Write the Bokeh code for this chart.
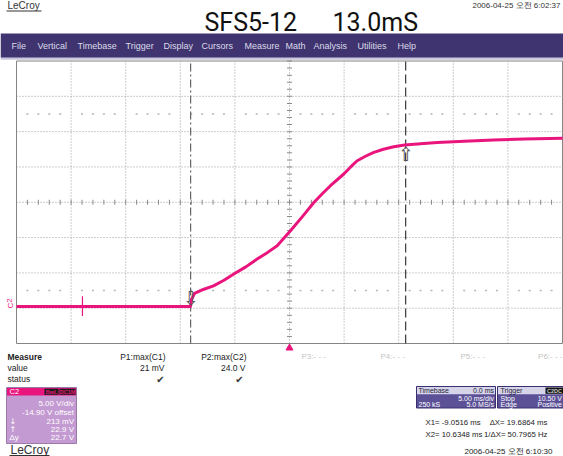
from bokeh.plotting import figure
from bokeh.models import Range1d
from bokeh.core.properties import value
from bokeh.embed import file_html
from bokeh.resources import INLINE

# ---------------- data ----------------
TIME_PER_DIV_MS = 5.0
VOLT_PER_DIV = 5.0
OFFSET_V = -14.90
H_DIVS = 10
V_DIVS = 8
CURSOR_X1_MS = -9.0516
CURSOR_X2_MS = 10.6348
CURSOR_Y1_V = 0.213
CURSOR_Y2_V = 22.9
TRIGGER_T_MS = 0.0

trace_t = [-25.0, -9.07, -8.95, -8.7, -7.9, -6.96, -6.0,
           -5.1, -4.0, -2.96, -2.0, -1.13, 0.09, 1.2, 2.23, 3.0, 3.75, 4.97, 5.6,
           6.2, 7.0, 7.72, 8.6, 9.55, 10.53, 12.0, 13.53, 16.0, 18.68, 21.5, 25.0]
trace_v = [0.15, 0.15, 1.2, 2.0, 2.55, 3.07, 3.85,
           4.73, 5.75, 6.86, 7.8, 8.74, 10.86, 12.9, 14.87, 16.1, 17.24, 18.9, 19.9,
           20.78, 21.45, 21.96, 22.4, 22.76, 23.0, 23.2, 23.37, 23.55, 23.7, 23.85, 23.95]
spike_t = [-18.96, -18.96]
spike_v = [1.6, -1.2]

title_left = "SFS5-12"
title_right = "13.0mS"
menu_items = ["File", "Vertical", "Timebase", "Trigger", "Display", "Cursors",
              "Measure", "Math", "Analysis", "Utilities", "Help"]
measure_rows = ["Measure", "value", "status"]
param_names = ["P1:max(C1)", "P2:max(C2)"]
param_values = ["21 mV", "24.0 V"]
unused_params = ["P3:- - -", "P4:- - -", "P5:- - -", "P6:- - -"]
c2_lines = ["5.00 V/div", "-14.90 V offset", "213 mV", "22.9 V", "22.7 V"]
c2_syms = ["", "", "\u2193", "\u2191", "\u0394y"]
timebase_rows = [("Timebase", "0.0 ms"), ("", "5.00 ms/div"), ("250 kS", "5.0 MS/s")]
trigger_rows = [("Trigger", ""), ("Stop", "10.50 V"), ("Edge", "Positive")]
cursor_left = ["X1= -9.0516 ms", "X2= 10.6348 ms"]
cursor_right = ["\u0394X= 19.6864 ms", "1/\u0394X= 50.7965 Hz"]
date_top = "2006-04-25 \uc624\uc804 6:02:37"
date_bottom = "2006-04-25 \uc624\uc804 6:10:30"

# ---------------- layout (pixel space 563 x 456) ----------------
REF_W, REF_H = 563.0, 456.0
W, H = 563, 456
GRID_L, GRID_R, GRID_T, GRID_B = 16.0, 562.0, 60.5, 343.0
menu_lx = [11, 37, 77, 125, 163, 201, 244, 285, 313, 357, 397]

t_left = -H_DIVS / 2 * TIME_PER_DIV_MS
t_right = H_DIVS / 2 * TIME_PER_DIV_MS
ms_per_px = (t_right - t_left) / (GRID_R - GRID_L)
v_center = -OFFSET_V
v_bot = v_center - V_DIVS / 2 * VOLT_PER_DIV
v_top = v_center + V_DIVS / 2 * VOLT_PER_DIV
v_per_px = (v_top - v_bot) / (GRID_B - GRID_T)

x_range = Range1d(t_left - GRID_L * ms_per_px, t_right + (REF_W - GRID_R) * ms_per_px)
y_range = Range1d(v_bot - (REF_H - GRID_B) * v_per_px, v_top + GRID_T * v_per_px)

p = figure(width=W, height=H, x_range=x_range, y_range=y_range,
           output_backend="svg", toolbar_location=None, title=None,
           x_axis_location=None, y_axis_location=None, min_border=0,
           outline_line_color=None, background_fill_color="white",
           border_fill_color="white")
p.xgrid.visible = False
p.ygrid.visible = False
p.extra_x_ranges = {"px": Range1d(0, REF_W)}
p.extra_y_ranges = {"py": Range1d(REF_H, 0)}

PX = dict(x_range_name="px", y_range_name="py")


def txt(x, y, s, size, color, align="left", baseline="middle", font="Liberation Sans",
        style="normal", angle=0.0, xr="px", yr="py", yoff=0):
    p.text(x=[x], y=[y], text=[s], text_font=value(font),
           text_font_size=value(f"{size:.1f}px"), text_color=color,
           text_align=align, text_baseline=baseline, text_font_style=style,
           angle=angle, y_offset=yoff, x_range_name=xr, y_range_name=yr)


# ---------------- header ----------------
txt(7, 5, "LeCroy", 10, "#333333")
p.segment(x0=[6], y0=[10.5], x1=[41], y1=[10.5], line_color="#333333", line_width=1, **PX)
txt(560, 4.5, date_top, 8, "#333333", align="right")
txt(204, 22, title_left, 25, "#111111", font="Roboto")
txt(332, 22, title_right, 25, "#111111", font="Roboto")
p.quad(left=[0], right=[REF_W], top=[33], bottom=[57.3], fill_color="#3f3470",
       line_color=None, **PX)
p.quad(left=[0], right=[REF_W], top=[57.3], bottom=[59.3], fill_color="#c9c5dd",
       line_color=None, **PX)
for name, mx in zip(menu_items, menu_lx):
    txt(mx, 45.5, name, 9, "#dcdbe8")

# ---------------- scope grid ----------------
t_grid = [t_left + k * TIME_PER_DIV_MS for k in range(1, H_DIVS)]
v_grid = [v_bot + k * VOLT_PER_DIV for k in range(1, V_DIVS)]
p.segment(x0=t_grid, y0=[v_bot] * len(t_grid), x1=t_grid, y1=[v_top] * len(t_grid),
          line_color="#9a9a9a", line_width=1, line_dash="1 2")
p.segment(x0=[t_left] * len(v_grid), y0=v_grid, x1=[t_right] * len(v_grid), y1=v_grid,
          line_color="#9a9a9a", line_width=1, line_dash="1 2")

minor_t = [t_left + k * TIME_PER_DIV_MS / 5 for k in range(H_DIVS * 5 + 1)]
minor_v = [v_bot + k * VOLT_PER_DIV / 5 for k in range(V_DIVS * 5 + 1)]
p.rect(x=minor_t, y=[v_center] * len(minor_t), width=1, height=5,
       width_units="screen", height_units="screen", fill_color="#8a8a8a", line_color=None)
p.rect(x=[0.0] * len(minor_v), y=minor_v, width=5, height=1,
       width_units="screen", height_units="screen", fill_color="#8a8a8a", line_color=None)

dot_t = [t for i, t in enumerate(minor_t) if i % 5 != 0]
for lvl in (v_center + 2.5 * VOLT_PER_DIV, v_center - 2.5 * VOLT_PER_DIV):
    p.rect(x=dot_t, y=[lvl] * len(dot_t), width=2, height=1.5,
           width_units="screen", height_units="screen", fill_color="#b4b4b4", line_color=None)

p.quad(left=[t_left], right=[t_right], top=[v_top], bottom=[v_bot],
       fill_color=None, line_color="#858585", line_width=1)

# cursors
p.segment(x0=[CURSOR_X1_MS], y0=[v_bot], x1=[CURSOR_X1_MS], y1=[v_top],
          line_color="#555555", line_width=1.1, line_dash="8 3 2 3")
p.segment(x0=[CURSOR_X2_MS], y0=[v_bot], x1=[CURSOR_X2_MS], y1=[v_top],
          line_color="#444444", line_width=1.3, line_dash="9 4")

# trace
p.line(trace_t, trace_v, line_color="#e9157d", line_width=3, line_join="round")
p.line(spike_t, spike_v, line_color="#e9157d", line_width=1.2)

# cursor arrows
txt(CURSOR_X1_MS, CURSOR_Y1_V, "\u21e9", 19, "#555555", align="center", baseline="bottom",
    font="DejaVu Sans", xr="default", yr="default", yoff=3)
txt(CURSOR_X2_MS, CURSOR_Y2_V, "\u21e7", 19, "#555555", align="center", baseline="top",
    font="DejaVu Sans", xr="default", yr="default", yoff=-3)

# channel label
txt(9.5, 303, "C2", 8, "#e9157d", align="center", angle=1.5708)

# trigger marker
p.scatter(x=[TRIGGER_T_MS], y=[347.5], marker="triangle", size=7, fill_color="#e9157d",
          line_color="#e9157d", y_range_name="py")

# ---------------- footer ----------------
for row, yy in zip(measure_rows, [356, 367, 378.5]):
    txt(7, yy, row, 8.5, "#222222", style="bold" if row == "Measure" else "normal")
for name, val, xr_, xc in zip(param_names, param_values, [165, 246], [160, 239]):
    txt(xr_, 356, name, 8.5, "#222222", align="right")
    txt(xr_ - 1, 367, val, 8.5, "#222222", align="right")
    txt(xc, 378.5, "\u2714", 10, "#333333", align="center", font="DejaVu Sans")
for name, ux in zip(unused_params[:3], [301, 380, 460]):
    txt(ux, 356, name, 8, "#c4c4c4")
txt(562, 356, unused_params[3], 8, "#c4c4c4", align="right")

# C2 box
p.quad(left=[6], right=[76], top=[387], bottom=[443], fill_color="#c49ad2",
       line_color="#9a7aa8", line_width=1, **PX)
p.quad(left=[6.5], right=[75.5], top=[387.5], bottom=[395], fill_color="#e8157c",
       line_color=None, **PX)
txt(9, 391.3, "C2", 7.5, "#ffffff")
p.quad(left=[44, 59], right=[58, 75], top=[388.2, 388.2], bottom=[394.2, 394.2],
       fill_color="#1a1a1a", line_color=None, **PX)
txt(51, 391.3, "BwL", 5.5, "#e8157c", align="center", style="bold")
txt(67, 391.3, "DC1M", 5.5, "#e8157c", align="center", style="bold")
for line, sym, yy in zip(c2_lines, c2_syms, [403, 412, 420.5, 428.5, 436.5]):
    txt(73.5, yy, line, 8, "#ffffff", align="right")
    if sym:
        txt(9, yy, sym, 8, "#ffffff", font="DejaVu Sans" if sym != "\u0394y" else "Liberation Sans")

txt(10, 449.5, "LeCroy", 12, "#333333")
p.segment(x0=[9], y0=[455], x1=[49], y1=[455], line_color="#333333", line_width=1, **PX)

# Timebase box
p.quad(left=[416], right=[495], top=[386], bottom=[407.5], fill_color="#5c5197",
       line_color="#3a3070", line_width=1, **PX)
p.quad(left=[416.5], right=[494.5], top=[386.5], bottom=[393.8], fill_color="#d6d4e9",
       line_color=None, **PX)
for (lt, rt), yy in zip(timebase_rows, [390.2, 397.8, 404.0]):
    col = "#1e1e3c" if yy < 393 else "#ffffff"
    if lt:
        txt(418, yy, lt, 7, col)
    if rt:
        txt(493.5, yy, rt, 7, col, align="right")

# Trigger box
p.quad(left=[497], right=[566], top=[386], bottom=[407.5], fill_color="#5c5197",
       line_color="#3a3070", line_width=1, **PX)
p.quad(left=[497.5], right=[566], top=[386.5], bottom=[393.8], fill_color="#d6d4e9",
       line_color=None, **PX)
p.quad(left=[545], right=[563], top=[387], bottom=[393.3], fill_color="#111111",
       line_color=None, **PX)
txt(554, 390.2, "C2DC", 5.5, "#c8c8c8", align="center", style="bold")
for (lt, rt), yy in zip(trigger_rows, [390.2, 397.8, 404.0]):
    col = "#1e1e3c" if yy < 393 else "#ffffff"
    if lt:
        txt(500, yy, lt, 7, col)
    if rt:
        txt(561.5, yy, rt, 7, col, align="right")

for lt, rt, yy in zip(cursor_left, cursor_right, [422, 433.5]):
    txt(425, yy, lt, 7.8, "#222222")
    txt(547, yy, rt, 7.8, "#222222", align="right")

txt(552, 451, date_bottom, 8, "#222222", align="right")

open("out.html", "w").write(file_html(p, INLINE))
